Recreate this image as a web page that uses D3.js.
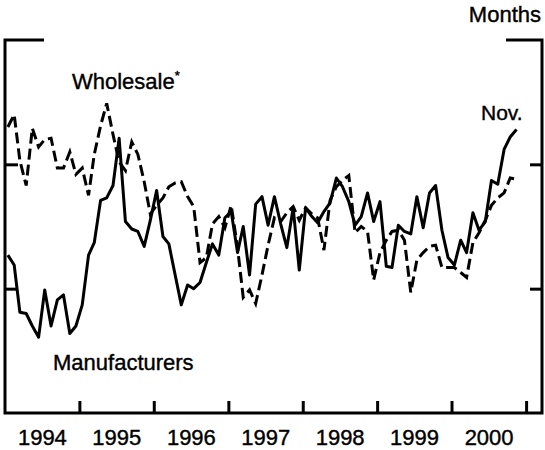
<!DOCTYPE html>
<html>
<head>
<meta charset="utf-8">
<script src="https://cdn.jsdelivr.net/npm/d3@7"></script>
<style>
  body { margin: 0; background: #fff; }
  text { font-family: "Liberation Sans", Arial, sans-serif; fill: #000; stroke: #000; stroke-width: 0.4px; }
</style>
</head>
<body>
<svg id="chart"></svg>
<script>
// monthly, Jan 1994 - Nov 2000 (months' supply)
const startYear = 1994;
const manufacturers = [
  1.327, 1.319, 1.281, 1.280, 1.270, 1.261, 1.299, 1.270, 1.291, 1.295, 1.264, 1.270,
  1.287, 1.327, 1.337, 1.371, 1.373, 1.383, 1.421, 1.354, 1.348, 1.346, 1.334, 1.355,
  1.379, 1.342, 1.336, 1.311, 1.287, 1.303, 1.300, 1.305, 1.321, 1.336, 1.327, 1.357,
  1.362, 1.329, 1.350, 1.311, 1.368, 1.374, 1.351, 1.374, 1.352, 1.333, 1.365, 1.315,
  1.365, 1.358, 1.353, 1.362, 1.369, 1.389, 1.382, 1.370, 1.351, 1.358, 1.377, 1.354,
  1.370, 1.318, 1.317, 1.351, 1.346, 1.344, 1.374, 1.349, 1.377, 1.383, 1.347, 1.325,
  1.319, 1.339, 1.329, 1.361, 1.347, 1.354, 1.387, 1.384, 1.412, 1.422, 1.428
];
const wholesale = [
  1.430, 1.440, 1.403, 1.383, 1.429, 1.414, 1.420, 1.421, 1.397, 1.397, 1.410, 1.392,
  1.397, 1.375, 1.408, 1.431, 1.449, 1.424, 1.402, 1.395, 1.418, 1.408, 1.386, 1.360,
  1.367, 1.373, 1.382, 1.385, 1.386, 1.374, 1.366, 1.321, 1.325, 1.352, 1.358, 1.349,
  1.367, 1.333, 1.293, 1.299, 1.288, 1.311, 1.335, 1.357, 1.354, 1.361, 1.366, 1.355,
  1.365, 1.360, 1.357, 1.331, 1.371, 1.382, 1.387, 1.391, 1.345, 1.350, 1.346, 1.307,
  1.329, 1.339, 1.346, 1.347, 1.339, 1.297, 1.323, 1.329, 1.334, 1.335, 1.317, 1.317,
  1.317, 1.313, 1.309, 1.337, 1.345, 1.355, 1.367, 1.373, 1.377, 1.389, 1.388
];
const yearLabels = [1994, 1995, 1996, 1997, 1998, 1999, 2000];
const yTicks = [1.3, 1.4];

const width = 545, height = 450;
const plot = { left: 5, right: 542, top: 40, bottom: 413 };

const svg = d3.select("#chart").attr("width", width).attr("height", height);

const x = d3.scaleTime()
  .domain([new Date(1994, 0, 1), new Date(2001, 2, 20)])
  .range([plot.left, plot.right]);
const y = d3.scaleLinear().domain([1.2, 1.5]).range([plot.bottom, plot.top]);

const monthDate = i => new Date(startYear, i, 15);

// frame (top edge only at the corners)
svg.append("path")
  .attr("fill", "none").attr("stroke", "#000").attr("stroke-width", 3)
  .attr("d", `M${plot.left + 39},${plot.top}H${plot.left}V${plot.bottom}H${plot.right}V${plot.top}H${plot.right - 36}`);

// year boundary ticks
svg.append("g")
  .attr("transform", `translate(0,${plot.bottom})`)
  .call(d3.axisBottom(x)
    .tickValues(d3.range(1995, 2002).map(yr => new Date(yr, 0, 1)))
    .tickSize(-12).tickFormat(""))
  .call(g => g.select(".domain").remove())
  .call(g => g.selectAll("line").attr("stroke-width", 3));

// year labels centred in each year
svg.append("g")
  .attr("transform", `translate(0,${plot.bottom})`)
  .call(d3.axisBottom(x)
    .tickValues(yearLabels.map(yr => new Date(yr, 6, 1)))
    .tickSize(0).tickPadding(16)
    .tickFormat(d3.timeFormat("%Y")))
  .call(g => g.select(".domain").remove())
  .call(g => g.selectAll("text").attr("font-size", 22).attr("font-family", "Liberation Sans, Arial, sans-serif"));

svg.append("g")
  .attr("transform", `translate(${plot.left},0)`)
  .call(d3.axisLeft(y).tickValues(yTicks).tickSize(-13).tickFormat(""))
  .call(g => g.select(".domain").remove())
  .call(g => g.selectAll("line").attr("stroke-width", 3));

svg.append("g")
  .attr("transform", `translate(${plot.right},0)`)
  .call(d3.axisRight(y).tickValues(yTicks).tickSize(-12).tickFormat(""))
  .call(g => g.select(".domain").remove())
  .call(g => g.selectAll("line").attr("stroke-width", 3));

const line = d3.line()
  .x((d, i) => x(monthDate(i)))
  .y(d => y(d));

svg.append("path")
  .datum(wholesale)
  .attr("fill", "none")
  .attr("stroke", "#000")
  .attr("stroke-width", 3)
  .attr("stroke-dasharray", "11,5")
  .attr("d", line);

svg.append("path")
  .datum(manufacturers)
  .attr("fill", "none")
  .attr("stroke", "#000")
  .attr("stroke-width", 3)
  .attr("stroke-linejoin", "round")
  .attr("d", line);

// labels
svg.append("text").attr("x", 541).attr("y", 22).attr("text-anchor", "end")
  .attr("font-size", 22).text("Months");

const wl = svg.append("text").attr("x", 72).attr("y", 89).attr("font-size", 22).text("Wholesale");
wl.append("tspan").attr("font-size", 13).attr("dy", -9).text("*");

svg.append("text").attr("x", 481).attr("y", 120).attr("font-size", 21).text("Nov.");
svg.append("text").attr("x", 53).attr("y", 370).attr("font-size", 22).text("Manufacturers");
</script>
</body>
</html>
